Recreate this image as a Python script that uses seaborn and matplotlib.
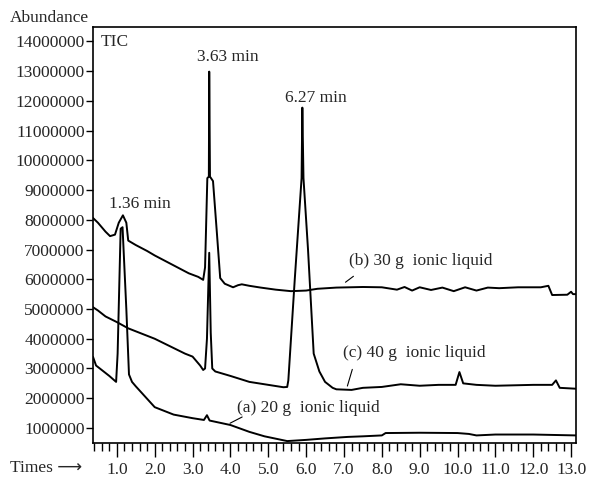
import numpy as np
import pandas as pd
import matplotlib
matplotlib.use("Agg")
import matplotlib.pyplot as plt
import seaborn as sns
from matplotlib.ticker import MultipleLocator, FuncFormatter

# retention time (min) and abundance (millions)
time_b = [0.37, 0.5, 0.7, 0.82, 0.95, 1.05, 1.16, 1.25, 1.30, 1.5, 1.8, 2.0, 2.3, 2.6, 2.9,
          3.15, 3.28, 3.33, 3.39, 3.43, 3.44, 3.46, 3.54, 3.64, 3.73, 3.85, 4.07, 4.2, 4.3,
          4.5, 4.8, 5.2, 5.6, 6.0, 6.3, 6.8, 7.5, 8.0, 8.4, 8.6, 8.8, 9.0, 9.3, 9.6, 9.9,
          10.2, 10.5, 10.8, 11.1, 11.6, 12.2, 12.4, 12.5, 12.9, 13.0, 13.05, 13.13]
abund_b = [8.06, 7.9, 7.6, 7.45, 7.5, 7.9, 8.15, 7.9, 7.3, 7.15, 6.95, 6.8, 6.6, 6.4, 6.2,
           6.08, 5.98, 6.4, 9.4, 9.45, 12.98, 9.45, 9.3, 7.6, 6.04, 5.85, 5.73, 5.8, 5.83,
           5.78, 5.72, 5.65, 5.6, 5.62, 5.68, 5.72, 5.74, 5.73, 5.65, 5.74, 5.62, 5.73, 5.64,
           5.72, 5.6, 5.73, 5.62, 5.72, 5.7, 5.73, 5.73, 5.78, 5.47, 5.48, 5.58, 5.5, 5.5]

time_c = [0.37, 0.5, 0.7, 1.0, 1.3, 1.6, 2.0, 2.4, 2.8, 3.0, 3.2, 3.28, 3.33, 3.38, 3.44,
          3.48, 3.52, 3.6, 4.0, 4.5, 5.0, 5.4, 5.5, 5.53, 5.7, 5.88, 5.90, 5.93, 6.05, 6.2,
          6.35, 6.5, 6.7, 6.8, 7.2, 7.5, 8.0, 8.5, 9.0, 9.5, 9.95, 10.05, 10.15, 10.5, 11.0,
          12.0, 12.5, 12.6, 12.7, 13.13]
abund_c = [5.06, 4.95, 4.75, 4.56, 4.35, 4.2, 4.0, 3.75, 3.5, 3.4, 3.1, 2.95, 3.0, 4.0, 6.89,
           4.2, 3.0, 2.9, 2.75, 2.55, 2.45, 2.37, 2.38, 2.6, 6.0, 9.4, 11.77, 9.4, 7.0, 3.5,
           2.9, 2.55, 2.35, 2.3, 2.28, 2.35, 2.38, 2.47, 2.42, 2.45, 2.45, 2.88, 2.5, 2.45, 2.42,
           2.45, 2.45, 2.6, 2.35, 2.32]

time_a = [0.37, 0.45, 0.6, 0.8, 0.98, 1.02, 1.1, 1.15, 1.25, 1.32, 1.4, 1.5, 2.0, 2.5, 3.0,
          3.3, 3.38, 3.45, 4.0, 4.5, 4.9, 5.5, 6.0, 6.5, 7.1, 7.5, 8.0, 8.1, 9.0, 10.0, 10.3,
          10.5, 11.0, 12.0, 13.13]
abund_a = [3.39, 3.1, 2.95, 2.75, 2.55, 3.5, 7.7, 7.75, 5.0, 2.8, 2.55, 2.4, 1.7, 1.45, 1.33,
           1.27, 1.43, 1.25, 1.1, 0.87, 0.72, 0.56, 0.6, 0.65, 0.7, 0.72, 0.75, 0.83, 0.84, 0.83, 0.8,
           0.75, 0.78, 0.78, 0.75]

series_names = ["(a) 20 g  ionic liquid", "(b) 30 g  ionic liquid", "(c) 40 g  ionic liquid"]

df = pd.concat([
    pd.DataFrame({"time": time_a, "abund": abund_a, "sample": series_names[0]}),
    pd.DataFrame({"time": time_b, "abund": abund_b, "sample": series_names[1]}),
    pd.DataFrame({"time": time_c, "abund": abund_c, "sample": series_names[2]}),
])

sns.set_style("ticks")
plt.rcParams["font.family"] = ["Liberation Serif", "DejaVu Sans"]
plt.rcParams["font.size"] = 12.5

fig = plt.figure(figsize=(5.94, 4.79), dpi=100)
ax = fig.add_axes([0.1566, 0.0752, 0.8131, 0.8684])

sns.lineplot(data=df, x="time", y="abund", units="sample", estimator=None, sort=False,
             color="black", linewidth=1.4, ax=ax)

ax.set_xlim(0.37, 13.13)
ax.set_ylim(0.496, 14.48)
ax.xaxis.set_minor_locator(MultipleLocator(0.2))
ax.xaxis.set_major_formatter(FuncFormatter(lambda v, p: f"{v:.1f}"))
ax.yaxis.set_major_formatter(FuncFormatter(lambda v, p: f"{int(round(v * 1e6))}"))
ax.set_yticks(np.arange(1, 15))
ax.set_xticks(np.arange(1, 14))
ax.tick_params(axis="x", which="major", length=10, width=1, pad=4, color="black")
ax.tick_params(axis="x", which="minor", length=6, width=1, color="black")
ax.tick_params(axis="y", which="major", length=5, width=1, pad=1, color="black")
ax.set_xlabel("")
ax.set_ylabel("")
for s in ax.spines.values():
    s.set_color("black")
    s.set_linewidth(1.2)

# peak labels
ax.text(1.61, 8.53, "1.36 min", ha="center", va="center")
ax.text(3.92, 13.47, "3.63 min", ha="center", va="center")
ax.text(6.27, 12.09, "6.27 min", ha="center", va="center")
ax.text(0.015, 0.963, "TIC", transform=ax.transAxes, ha="left", va="center")

# trace labels with leader lines
ax.text(7.12, 6.6, series_names[1], ha="left", va="center")
ax.plot([7.04, 7.25], [5.9, 6.1], color="black", lw=0.8)
ax.text(6.98, 3.52, series_names[2], ha="left", va="center")
ax.plot([7.09, 7.22], [2.41, 2.97], color="black", lw=0.8)
ax.text(4.18, 1.67, series_names[0], ha="left", va="center")
ax.plot([3.99, 4.31], [1.16, 1.37], color="black", lw=0.8)

fig.text(10 / 594, 1 - 18 / 479, "Abundance", ha="left", va="center")
fig.text(10 / 594, 1 - 468 / 479, "Times \u27f6", ha="left", va="center")

fig.savefig("out.png", dpi=100)
